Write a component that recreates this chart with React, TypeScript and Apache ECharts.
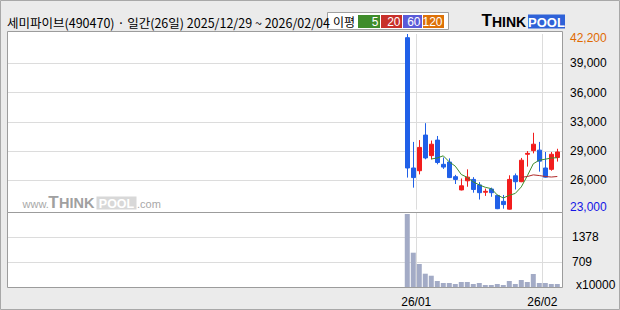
import React, { useEffect, useRef } from 'react';
import * as echarts from 'echarts';

// ---------- data ----------
const dates = [
  '2025/12/29', '2025/12/30', '2026/01/02', '2026/01/05', '2026/01/06', '2026/01/07',
  '2026/01/08', '2026/01/09', '2026/01/12', '2026/01/13', '2026/01/14', '2026/01/15',
  '2026/01/16', '2026/01/19', '2026/01/20', '2026/01/21', '2026/01/22', '2026/01/23',
  '2026/01/26', '2026/01/27', '2026/01/28', '2026/01/29', '2026/01/30', '2026/02/02',
  '2026/02/03', '2026/02/04',
];
const opens = [41800, 27550, 27250, 31150, 28900, 30600, 27950, 28200, 26600, 25150, 26150, 26300, 25700,
  24900, 25250, 24550, 23900, 23050, 26700, 26050, 29050, 29450, 29500, 27550, 27400, 28700];
const closes = [27550, 26500, 29800, 28650, 30150, 28150, 27650, 26500, 26300, 25600, 26550, 25200, 24850,
  25000, 24850, 23100, 23550, 26300, 26050, 28400, 29150, 30150, 28300, 26550, 29050, 29300];
const lows = [26500, 25400, 26850, 28500, 28500, 27950, 27450, 26450, 25800, 25100, 25500, 24850, 24100,
  24500, 24400, 23050, 23100, 23000, 25200, 26000, 27700, 29150, 27150, 26500, 27250, 28250];
const highs = [42200, 30400, 30600, 32450, 30550, 31050, 28700, 28600, 26800, 26400, 27400, 26550, 26000,
  25300, 25400, 24600, 24600, 26750, 26950, 28650, 29400, 31400, 30400, 29300, 29300, 29650];
// volume in units of 10,000 shares
const volumes = [1993, 958, 655, 396, 342, 201, 147, 147, 120, 174, 174, 120, 147,
  94, 94, 120, 94, 201, 120, 227, 174, 388, 147, 147, 120, 120];

const priceTicks = [23000, 26200, 29400, 32600, 35800, 39000, 42200];
const priceTickLabels = ['23,000', '26,000', '29,000', '33,000', '36,000', '39,000', '42,200'];
const volTicks = [40, 709, 1378];
const volTickLabels = ['x10000', '709', '1378'];
const volMax = 2047;
const maPeriods = [5, 20, 60, 120];
const maColors = ['#3f8c2b', '#c8302a', '#5b5bd8', '#dd7108'];
const maLineColors = ['#3f8c2b', '#b02a2a', '#5b5bd8', '#dd7108'];

const title = '세미파이브(490470) · 일간(26일) 2025/12/29 ~ 2026/02/04';

// ---------- derived ----------
function movingAverage(n: number): number[][] {
  const out: number[][] = [];
  for (let i = n - 1; i < closes.length; i++) {
    let s = 0;
    for (let j = i - n + 1; j <= i; j++) s += closes[j];
    out.push([i, s / n]);
  }
  return out;
}
const monthTicks: number[] = [];
dates.forEach((d, i) => {
  if (i > 0 && d.slice(5, 7) !== dates[i - 1].slice(5, 7)) monthTicks.push(i - 0.5);
});
const monthLabel = (v: number) => {
  const d = dates[Math.ceil(v)];
  return d ? d.slice(2, 4) + '/' + d.slice(5, 7) : '';
};

const UP = '#f21d1d';
const DOWN = '#2060e8';
const GRIDC = '#dcdcdc';
const NUMFONT = 'Liberation Sans';
const KFONT = 'Noto Sans CJK KR';
const X_MIN = -66.7;
const X_MAX = 25.95;

function txt(x: number, y: number, text: string, o: any = {}) {
  const align = o.align || 'left';
  const va = o.va || 'middle';
  return {
    type: 'text', x, y, z: o.z ?? 30,
    style: {
      text, fill: o.fill || '#000',
      font: o.font || `12px "${NUMFONT}"`,
      textAlign: align, textVerticalAlign: va, align, verticalAlign: va,
    },
  };
}

function buildOption(): any {
  const legendBoxes = [
    { x: 358, w: 22, label: String(maPeriods[0]) },
    { x: 381, w: 21, label: String(maPeriods[1]) },
    { x: 403, w: 19, label: String(maPeriods[2]) },
    { x: 423, w: 21, label: String(maPeriods[3]) },
  ];
  const graphics: any[] = [
    { type: 'rect', z: -20, shape: { x: 0.5, y: 0.5, width: 619, height: 309 }, style: { fill: '#ebebeb', stroke: '#a8a8a8', lineWidth: 1 } },
    { type: 'rect', z: -10, shape: { x: 7.5, y: 31.5, width: 555, height: 181 }, style: { fill: '#ffffff' } },
    { type: 'rect', z: -10, shape: { x: 7.5, y: 212.5, width: 555, height: 75 }, style: { fill: '#ffffff' } },
    { type: 'rect', z: 25, shape: { x: 7.5, y: 31.5, width: 555, height: 181 }, style: { fill: 'none', stroke: '#9c9c9c', lineWidth: 1 } },
    { type: 'rect', z: 25, shape: { x: 7.5, y: 212.5, width: 555, height: 75 }, style: { fill: 'none', stroke: '#9c9c9c', lineWidth: 1 } },
    // title
    txt(7, 22.5, title, { font: `12.5px "${KFONT}"` }),
    // MA legend
    { type: 'rect', z: 28, shape: { x: 327.5, y: 12.5, width: 121, height: 17 }, style: { fill: '#ffffff', stroke: '#a0a0a0', lineWidth: 1 } },
    txt(333, 21.5, '이평', { font: `12px "${KFONT}"` }),
    ...legendBoxes.flatMap((b, i) => [
      { type: 'rect', z: 29, shape: { x: b.x, y: 15, width: b.w, height: 13 }, style: { fill: maColors[i] } },
      txt(b.x + b.w - 1.5, 21.8, b.label, { align: 'right', fill: '#ffffff', font: `12px "${NUMFONT}"` }),
    ]),
    // THINKPOOL logo
    txt(481.5, 29, 'T', { va: 'bottom', font: `bold 17px "${NUMFONT}"` }),
    txt(492, 28.5, 'HINK', { va: 'bottom', font: `bold 14px "${NUMFONT}"` }),
    { type: 'rect', z: 29, shape: { x: 528, y: 14.5, width: 37, height: 14 }, style: { fill: '#2f62d8' } },
    txt(546.5, 22, 'POOL', { align: 'center', fill: '#ffffff', font: `bold 13px "${NUMFONT}"` }),
    // watermark
    txt(22.5, 209.5, 'www.', { va: 'bottom', fill: '#a8a8a8', font: `11px "${NUMFONT}"`, z: -5 }),
    txt(48.3, 210.5, 'T', { va: 'bottom', fill: '#a0a0a0', font: `bold 17px "${NUMFONT}"`, z: -5 }),
    txt(59, 210, 'HINK', { va: 'bottom', fill: '#a0a0a0', font: `bold 14.5px "${NUMFONT}"`, z: -5 }),
    { type: 'rect', z: -5, shape: { x: 96.5, y: 196.5, width: 40, height: 13 }, style: { fill: '#d8d8d8' } },
    txt(116.5, 203.5, 'POOL', { align: 'center', fill: '#ffffff', font: `bold 12.5px "${NUMFONT}"`, z: -4 }),
    txt(137, 209.5, '.com', { va: 'bottom', fill: '#a8a8a8', font: `11px "${NUMFONT}"`, z: -5 }),
  ];

  const candleData = dates.map((_, i) => [i, opens[i], closes[i], lows[i], highs[i]]);
  const volData = dates.map((_, i) => [i, volumes[i]]);

  return {
    animation: false,
    backgroundColor: '#ebebeb',
    textStyle: { fontFamily: NUMFONT },
    graphic: { elements: graphics },
    grid: [
      { left: 7, top: 34, width: 556, height: 175.6 },
      { left: 7, top: 212, width: 556, height: 75 },
    ],
    xAxis: [
      {
        type: 'value', gridIndex: 0, min: X_MIN, max: X_MAX,
        axisLine: { show: false },
        axisTick: { show: false, customValues: monthTicks },
        axisLabel: { show: false },
        splitLine: { show: true, lineStyle: { color: GRIDC, width: 1 } },
      },
      {
        type: 'value', gridIndex: 1, min: X_MIN, max: X_MAX,
        axisLine: { show: false },
        axisTick: { show: false, customValues: monthTicks },
        axisLabel: {
          show: true, customValues: monthTicks, formatter: (v: number) => monthLabel(v),
          color: '#000', fontSize: 12, fontFamily: NUMFONT, margin: 9,
        },
        splitLine: { show: true, lineStyle: { color: GRIDC, width: 1 } },
      },
    ],
    yAxis: [
      {
        type: 'value', gridIndex: 0, position: 'right',
        min: priceTicks[0], max: priceTicks[priceTicks.length - 1],
        axisLine: { show: false },
        axisTick: { show: false, customValues: priceTicks },
        axisLabel: {
          customValues: priceTicks, margin: 7, color: '#000', fontSize: 12, fontFamily: NUMFONT,
          formatter: (v: number) => {
            const i = priceTicks.indexOf(v);
            const s = priceTickLabels[i] ?? '';
            if (i === priceTicks.length - 1) return `{hi|${s}}`;
            if (i === 0) return `{lo|${s}}`;
            return s;
          },
          rich: {
            hi: { color: '#e06a00', fontSize: 12, fontFamily: NUMFONT, padding: [7, 0, 0, 0] },
            lo: { color: '#1414e6', fontSize: 12, fontFamily: NUMFONT, padding: [0, 0, 6, 0] },
          },
        },
        splitLine: { show: true, showMinLine: false, showMaxLine: false, lineStyle: { color: GRIDC, width: 1 } },
      },
      {
        type: 'value', gridIndex: 1, position: 'right', min: volTicks[0], max: volMax,
        axisLine: { show: false },
        axisTick: { show: false, customValues: volTicks },
        axisLabel: {
          customValues: volTicks, margin: 9, color: '#000', fontSize: 12, fontFamily: NUMFONT,
          formatter: (v: number) => {
            const i = volTicks.indexOf(v);
            const s = volTickLabels[i] ?? '';
            return i === 0 ? `{u|${s}}` : s;
          },
          rich: { u: { color: '#000', fontSize: 12, fontFamily: NUMFONT, padding: [0, 0, 4, 4] } },
        },
        splitLine: { show: true, showMinLine: false, lineStyle: { color: GRIDC, width: 1 } },
      },
    ],
    series: [
      {
        type: 'candlestick', name: 'price', xAxisIndex: 0, yAxisIndex: 0,
        data: candleData, encode: { x: 0, y: [1, 2, 3, 4] },
        barWidth: 4,
        itemStyle: { color: UP, color0: DOWN, borderColor: UP, borderColor0: DOWN, borderWidth: 1 },
      },
      ...maPeriods.map((n, i) => ({
        type: 'line', name: 'MA' + n, xAxisIndex: 0, yAxisIndex: 0,
        data: movingAverage(n), showSymbol: false, symbol: 'none',
        lineStyle: { color: maLineColors[i], width: 1 }, z: 3,
      })),
      {
        type: 'bar', name: 'volume', xAxisIndex: 1, yAxisIndex: 1,
        data: volData, barWidth: 5,
        itemStyle: { color: '#a3abc6' },
      },
    ],
  };
}

export default function App() {
  const ref = useRef<HTMLDivElement>(null);
  useEffect(() => {
    const chart = echarts.init(ref.current!, null, { renderer: 'svg' });
    chart.setOption(buildOption());
    return () => chart.dispose();
  }, []);
  return (
    <div
      ref={ref}
      style={{ position: 'absolute', left: 0, top: 0, width: 620, height: 310 }}
    />
  );
}
